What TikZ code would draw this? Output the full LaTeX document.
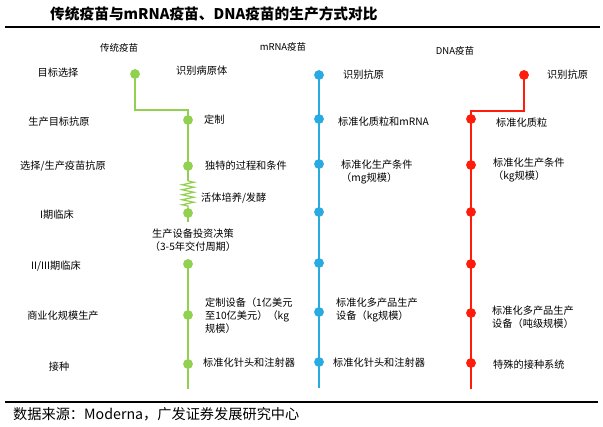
\documentclass[tikz,border=0pt]{standalone}
\usepackage{fontspec}
\setmainfont{Noto Sans CJK SC}
\usetikzlibrary{positioning,decorations.pathmorphing}
\definecolor{tradgreen}{RGB}{146,208,80}
\definecolor{mrnablue}{RGB}{41,171,226}
\definecolor{dnared}{RGB}{255,28,10}

\begin{document}
\begin{tikzpicture}[
  x=1pt, y=-1pt,
  font=\fontsize{10.2}{13}\selectfont,
  % --- estilos ---
  stage/.style={anchor=center, align=center, inner sep=0pt},
  head/.style={anchor=center, inner sep=0pt, font=\fontsize{9.5}{11}\selectfont},
  desc/.style={anchor=west, align=left, inner sep=0pt},
  gdot/.style={circle, fill=tradgreen, inner sep=0pt, minimum size=9.5pt},
  bdot/.style={circle, fill=mrnablue, inner sep=0pt, minimum size=9.5pt},
  rdot/.style={circle, fill=dnared, inner sep=0pt, minimum size=9.5pt},
  gline/.style={draw=tradgreen, line width=1.8pt},
  bline/.style={draw=mrnablue, line width=1.8pt},
  rline/.style={draw=dnared, line width=1.8pt},
  rule/.style={draw=black, line width=1.1pt}
]
\useasboundingbox (0,0) rectangle (603,427);

% ---- TITULO ----
\node[anchor=west, inner sep=0pt, font=\fontsize{14.7}{16}\selectfont\bfseries] (title) at (50,14)
  {传统疫苗与mRNA疫苗、DNA疫苗的生产方式对比};
\coordinate (tl) at (5,27);
\coordinate (tr) at (600,27);
\draw[rule] (tl) -- (tr);

% ---- CABECERAS ----
\node[head] (hgreen) at (119,48) {传统疫苗};
\node[head] (hblue) at (283,47) {mRNA疫苗};
\node[head] (hred) at (455,51) {DNA疫苗};

% ---- ETAPAS ----
\node[stage] (s1) at (58,73) {目标选择};
\node[stage] (s2) at (59,122) {生产目标抗原};
\node[stage] (s3) at (63,166) {选择/生产疫苗抗原};
\node[stage] (s4) at (57,215) {I期临床};
\node[stage] (s5) at (56,266) {II/III期临床};
\node[stage] (s6) at (63,316) {商业化规模生产};
\node[stage] (s7) at (59,367) {接种};

% ---- TRADICIONAL ----
\node[gdot] (g1) at (135,74) {};
\node[gdot] (g2) at (188,120) {};
\node[gdot] (g3) at (188,166) {};
\node[gdot] (g4) at (188,213) {};
\node[gdot] (g5) at (188,264) {};
\node[gdot] (g6) at (188,315) {};
\node[gdot] (g7) at (188,364) {};
\coordinate (gbend) at (188,110);
\coordinate (gsa) at (188,181);
\coordinate (gsb) at (188,208);
\coordinate (gcut) at (188,222);
\coordinate (gend) at (188,389);

\draw[gline] (g1.center) |- (gbend) -- (g2.center) -- (g3.center) -- (gsa);
\draw[draw=tradgreen, line width=1.2pt, decorate,
  decoration={zigzag, amplitude=6pt, segment length=5pt}] (gsa) -- (gsb);
\draw[gline] (gsb) -- (g4.center) -- (gcut);
\draw[gline] (g5.center) -- (g6.center) -- (g7.center) -- (gend);
\foreach \d in {g1,g2,g3,g4,g5,g6,g7} \node[gdot] at (\d) {};

\node[desc] (gt1) at (176,71) {识别病原体};
\node[desc] (gt2) at (204,120) {定制};
\node[desc] (gt3) at (205,166) {独特的过程和条件};
\node[desc] (gt4) at (201,198) {活体培养/发酵};
\node[stage] (gt5) at (193,240) {生产设备投资决策\\（3-5年交付周期）};
\node[desc] (gt6) at (205,316) {定制设备（1亿美元\\至10亿美元）（kg\\规模）};
\node[desc] (gt7) at (203,363) {标准化针头和注射器};

% ---- mRNA ----
\node[bdot] (b1) at (319,75) {};
\node[bdot] (b2) at (319,119) {};
\node[bdot] (b3) at (319,164) {};
\node[bdot] (b4) at (319,212) {};
\node[bdot] (b5) at (319,263) {};
\node[bdot] (b6) at (319,312) {};
\node[bdot] (b7) at (319,362) {};
\coordinate (bend) at (319,388);
\draw[bline] (b1.center) -- (b2.center) -- (b3.center) -- (b4.center)
  -- (b5.center) -- (b6.center) -- (b7.center) -- (bend);
\foreach \d in {b1,b2,b3,b4,b5,b6,b7} \node[bdot] at (\d) {};

\node[desc] (bt1) at (343,75) {识别抗原};
\node[desc] (bt2) at (338,122) {标准化质粒和mRNA};
\node[desc] (bt3) at (341,172) {标准化生产条件\\（mg规模）};
\node[desc] (bt6) at (336,310) {标准化多产品生产\\设备（kg规模）};
\node[desc] (bt7) at (333,363) {标准化针头和注射器};

% ---- DNA ----
\node[rdot] (r1) at (524,75) {};
\node[rdot] (r2) at (471,119) {};
\node[rdot] (r3) at (471,165) {};
\node[rdot] (r4) at (471,212) {};
\node[rdot] (r5) at (471,264) {};
\node[rdot] (r6) at (471,313) {};
\node[rdot] (r7) at (471,363) {};
\coordinate (rbend) at (471,111);
\coordinate (rend) at (471,389);
\draw[rline] (r1.center) |- (rbend) -- (r2.center) -- (r3.center) -- (r4.center)
  -- (r5.center) -- (r6.center) -- (r7.center) -- (rend);
\foreach \d in {r1,r2,r3,r4,r5,r6,r7} \node[rdot] at (\d) {};

\node[desc] (rt1) at (547,75) {识别抗原};
\node[desc] (rt2) at (496,123) {标准化质粒};
\node[desc] (rt3) at (493,170) {标准化生产条件\\（kg规模）};
\node[desc] (rt6) at (492,317) {标准化多产品生产\\设备（吨级规模）};
\node[desc] (rt7) at (493,365) {特殊的接种系统};

% ---- FUENTE ----
\coordinate (bl) at (5,402);
\coordinate (br) at (598,402);
\draw[rule] (bl) -- (br);
\node[anchor=west, inner sep=0pt, font=\fontsize{14.2}{16}\selectfont] (src) at (13,414)
  {数据来源：Moderna，广发证券发展研究中心};

\end{tikzpicture}
\end{document}
